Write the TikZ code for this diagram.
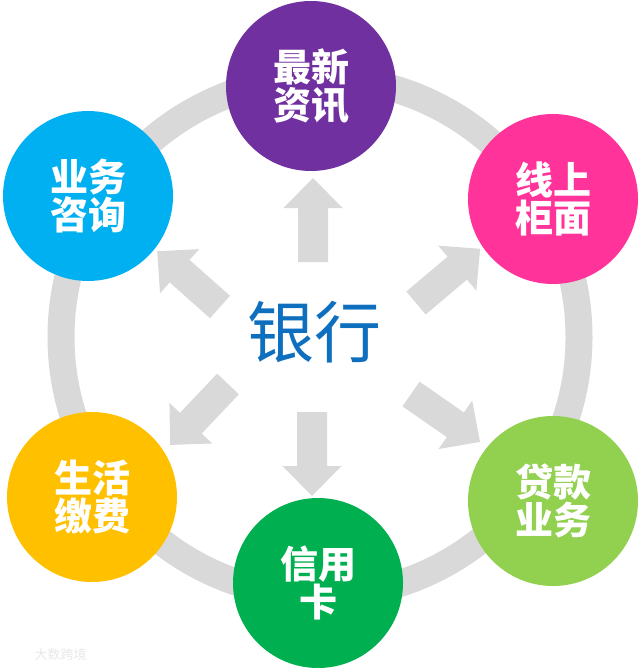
\documentclass[tikz,border=0pt]{standalone}
\usepackage{fontspec}
\newfontfamily\cjk{Noto Sans CJK SC}
\usepackage{tikz}
\usetikzlibrary{positioning}
\usepackage{xcolor}

\definecolor{ringgray}{HTML}{D9D9D9}
\definecolor{bankblue}{HTML}{0F6FBF}
\definecolor{newspurple}{HTML}{7030A0}
\definecolor{counterpink}{HTML}{FF3399}
\definecolor{consultcyan}{HTML}{00B0F0}
\definecolor{billsyellow}{HTML}{FFC000}
\definecolor{loangreen}{HTML}{92D050}
\definecolor{cardgreen}{HTML}{00B050}

\begin{document}
\begin{tikzpicture}[
            x=1pt, y=-1pt,
            bubble/.style={circle, minimum size=170pt, inner sep=0pt, text=white, align=center,
                           font=\cjk\bfseries\fontsize{38}{38}\selectfont},
            fatarrow/.style={fill=ringgray, draw=none}
        ]
            \useasboundingbox (0,0) rectangle (638,668);

            % Ring
            \draw[ringgray, line width=27pt] (320,337) circle (259);

            % Arrows
            \foreach \tx/\ty/\ang in {313/262/90, 312/412/-90, 220/307/138.4,
                                      416/303/40.2, 228/384/-133.5, 411/394/-34.8}{
                \begin{scope}[shift={(\tx,\ty)}, rotate=\ang]
                    \fill[fatarrow] (0,-15) -- (54,-15) -- (54,-29.5) -- (84,0)
                        -- (54,29.5) -- (54,15) -- (0,15) -- cycle;
                \end{scope}
            }

            % Centre
            \node[text=bankblue, font=\cjk\fontsize{67}{67}\selectfont] (hub) at (314,332) {银行};

            % Circles
            \node[bubble, fill=newspurple] (news) at (311,86) {最新\\资讯};
            \node[bubble, fill=counterpink] (counter) at (553,199) {线上\\柜面};
            \node[bubble, fill=loangreen] (loan) at (553,501) {贷款\\业务};
            \node[bubble, fill=cardgreen] (card) at (318,583) {信用\\卡};
            \node[bubble, fill=billsyellow] (bills) at (92,497) {生活\\缴费};
            \node[bubble, fill=consultcyan] (consult) at (88,196) {业务\\咨询};

            % Watermark
            \node[text=black!9, anchor=west, font=\cjk\fontsize{13}{13}\selectfont] (mark) at (31,655) {大数跨境};
        \end{tikzpicture}
\end{document}
